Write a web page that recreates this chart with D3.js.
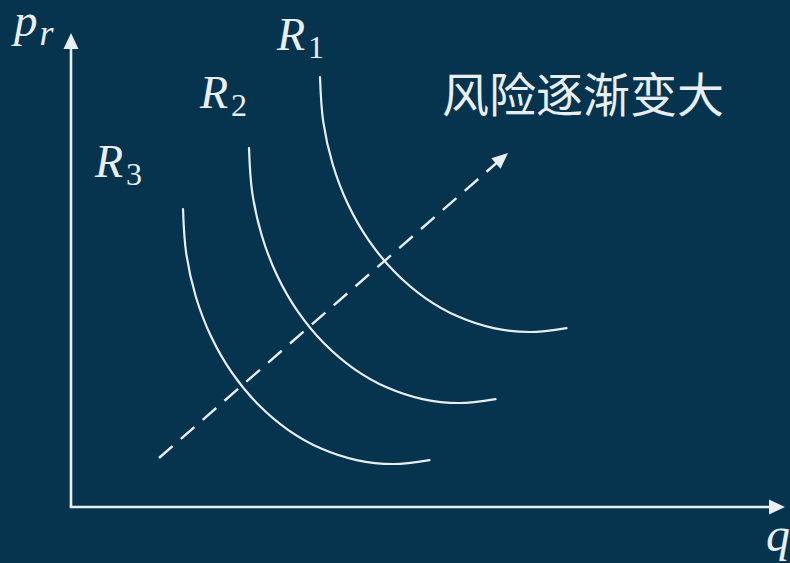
<!DOCTYPE html>
<html><head><meta charset="utf-8">
<script src="https://cdn.jsdelivr.net/npm/d3@7"></script>
<style>
html,body{margin:0;padding:0;background:#06344f;}
svg{display:block;}
</style></head>
<body>
<svg id="chart" width="790" height="563"></svg>
<script>
// ---- data (q, p_r in arbitrary chart units) ----
const curveNames = ["R1", "R2", "R3"];
const curveSubs = ["1", "2", "3"];
const r1Q = [249, 252.2, 261.7, 277.1, 298.1, 324, 354, 387.2, 422.6, 459, 495.5];
const r1P = [430, 385.7, 342.8, 302.5, 266.1, 234.7, 209.2, 190.4, 178.9, 175, 178.9];
const r2Q = [178, 181.2, 190.7, 206.1, 227.1, 253, 283, 316.2, 351.6, 388, 424.5];
const r2P = [359, 314.7, 271.8, 231.5, 195.1, 163.7, 138.2, 119.4, 107.9, 104, 107.9];
const r3Q = [112, 115.2, 124.7, 140.1, 161.1, 187, 217, 250.2, 285.6, 322, 358.5];
const r3P = [298, 253.7, 210.8, 170.5, 134.1, 102.7, 77.2, 58.4, 46.9, 43, 46.9];
const labelQ = [206, 129, 24];
const labelP = [457, 399, 330];
const riskArrowQ = [88, 437];
const riskArrowP = [49, 354];
const riskText = "风险逐渐变大";
const axisMax = {q: 714, p: 474};

// ---- drawing ----
const svg = d3.select("#chart");
const W = 790, H = 563;
svg.append("rect").attr("width", W).attr("height", H).attr("fill", "#06344f");

const x = d3.scaleLinear().domain([0, axisMax.q]).range([71, 785]);
const y = d3.scaleLinear().domain([0, axisMax.p]).range([507, 33]);

const fg = "#e9eef1";

function arrowHead(tx, ty, angle, len, half) {
  const ca = Math.cos(angle), sa = Math.sin(angle);
  const bx = tx - ca * len, by = ty - sa * len;
  const p1 = [bx - sa * half, by + ca * half];
  const p2 = [bx + sa * half, by - ca * half];
  return `M${tx},${ty}L${p1[0]},${p1[1]}L${p2[0]},${p2[1]}Z`;
}

// axes
svg.append("line").attr("x1", x(0)).attr("y1", y(0)).attr("x2", x(0)).attr("y2", y(axisMax.p) + 10)
  .attr("stroke", fg).attr("stroke-width", 2.6);
svg.append("path").attr("d", arrowHead(x(0), y(axisMax.p), -Math.PI / 2, 16, 7.5)).attr("fill", fg);
svg.append("line").attr("x1", x(0) - 1.3).attr("y1", y(0)).attr("x2", x(axisMax.q) - 10).attr("y2", y(0))
  .attr("stroke", fg).attr("stroke-width", 2.6);
svg.append("path").attr("d", arrowHead(x(axisMax.q), y(0), 0, 16, 7.5)).attr("fill", fg);

// curves
const curves = [[r1Q, r1P], [r2Q, r2P], [r3Q, r3P]];
const line = d3.line().x(d => x(d[0])).y(d => y(d[1])).curve(d3.curveCatmullRom.alpha(0.5));
curves.forEach(([qs, ps]) => {
  const pts = qs.map((q, i) => [q, ps[i]]);
  svg.append("path").attr("d", line(pts)).attr("fill", "none")
    .attr("stroke", fg).attr("stroke-width", 2.2).attr("stroke-linecap", "round");
});

// dashed risk arrow
const ax0 = x(riskArrowQ[0]), ay0 = y(riskArrowP[0]);
const ax1 = x(riskArrowQ[1]), ay1 = y(riskArrowP[1]);
const ang = Math.atan2(ay1 - ay0, ax1 - ax0);
svg.append("line").attr("x1", ax0).attr("y1", ay0)
  .attr("x2", ax1 - Math.cos(ang) * 12).attr("y2", ay1 - Math.sin(ang) * 12)
  .attr("stroke", fg).attr("stroke-width", 2.4).attr("stroke-dasharray", "18,11");
svg.append("path").attr("d", arrowHead(ax1, ay1, ang, 16, 7)).attr("fill", fg);

// math labels
const mathFont = "'Liberation Serif', 'DejaVu Serif', serif";
curveNames.forEach((n, i) => {
  const t = svg.append("text").attr("x", x(labelQ[i])).attr("y", y(labelP[i]))
    .attr("font-family", mathFont).attr("font-size", 46).attr("fill", fg);
  t.append("tspan").attr("font-style", "italic").text("R");
  t.append("tspan").attr("dx", 3).attr("dy", 8).attr("font-size", 32).text(curveSubs[i]);
});

// axis labels
const pl = svg.append("text").attr("x", 14).attr("y", 36)
  .attr("font-family", mathFont).attr("font-size", 47).attr("fill", fg).attr("font-style", "italic");
pl.append("tspan").text("p");
pl.append("tspan").attr("dx", 2).attr("dy", 9).attr("font-size", 36).text("r");

svg.append("text").attr("x", 766).attr("y", 551)
  .attr("font-family", mathFont).attr("font-size", 48).attr("font-style", "italic")
  .attr("fill", fg).text("q");

// risk text
svg.append("text").attr("x", 442).attr("y", 112)
  .attr("font-family", "'Noto Sans CJK SC', sans-serif").attr("font-size", 47)
  .attr("fill", fg).text(riskText);
</script>
</body></html>
